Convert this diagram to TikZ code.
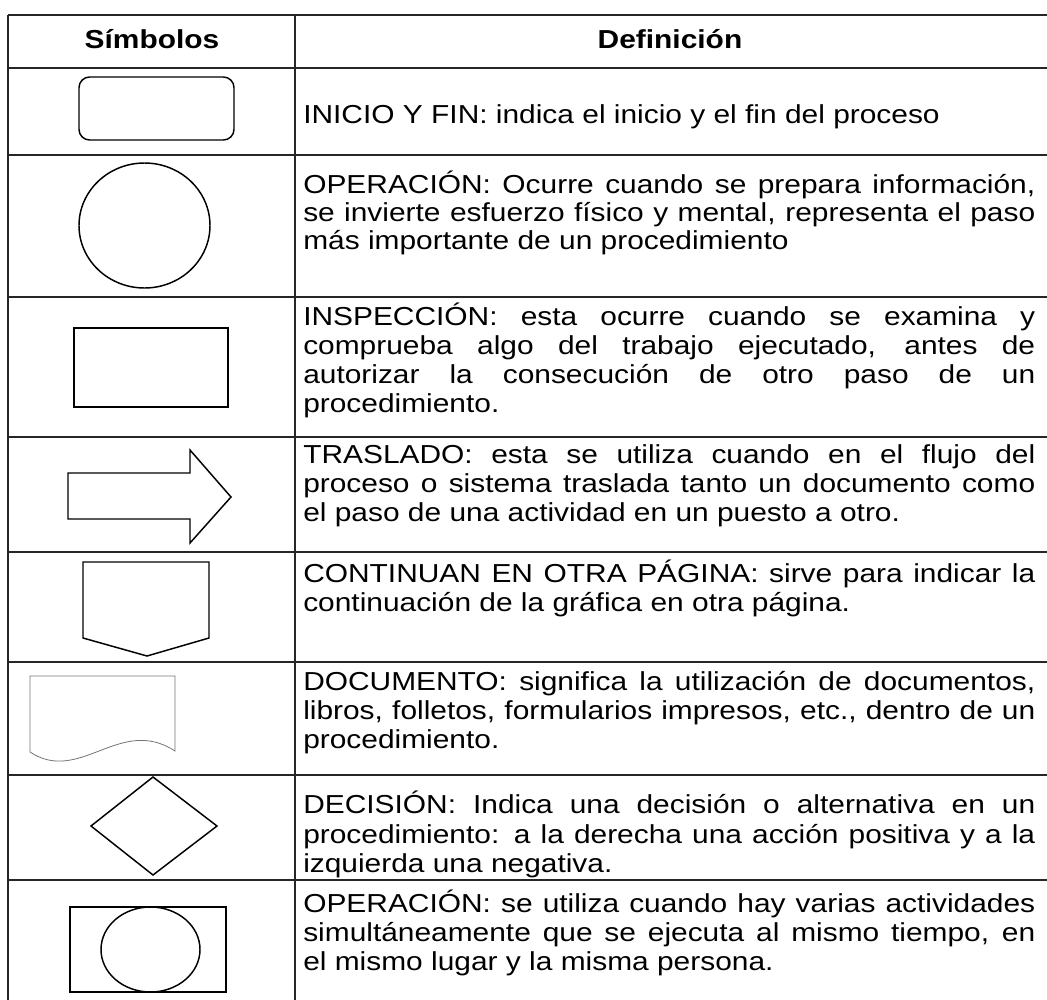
\documentclass[tikz,border=0pt]{standalone}
\usepackage{fontspec}
\setmainfont{Liberation Sans}[FakeStretch=1.15]
\newlength{\defw}
\setlength{\defw}{549pt}
\newcommand{\jl}[1]{\makebox[\defw][s]{#1}}
\begin{document}
\begin{tikzpicture}[x=0.75pt,y=-0.75pt,
  tabline/.style={line width=1.2pt,black!85},
  symb/.style={line width=1.1pt},
  docsymb/.style={line width=0.6pt,black!55},
  deftext/.style={anchor=base west,inner sep=0pt,font=\fontsize{19.5}{22}\selectfont},
  headtext/.style={anchor=base,inner sep=0pt,font=\fontsize{19.5}{22}\selectfont\bfseries}]
\useasboundingbox (0,0) rectangle (1047,1000);
% table
\foreach \y in {15,68,155,297,437,552,662,775,880}
  \draw[tabline] (8,\y) -- (1047,\y);
\draw[tabline] (8,15) -- (8,1000);
\draw[tabline] (295,15) -- (295,1000);
% header
\node[headtext] (hsim) at (152,48) {Símbolos};
\node[headtext] (hdef) at (670,48) {Definición};
% symbols
\draw[symb,rounded corners=8] (79,77) rectangle (234,140);
\draw[symb] (144.5,225.5) ellipse [x radius=65.5,y radius=62.5];
\draw[symb] (74,328) rectangle (228,407);
\draw[symb] (68,473) -- (190,473) -- (190,450) -- (231,497) -- (190,543) -- (190,519) -- (68,519) -- cycle;
\draw[symb] (83,562) -- (209,562) -- (209,638) -- (147,656) -- (83,638) -- cycle;
\draw[docsymb] (30,752) -- (30,676) -- (175,676) -- (175,751) .. controls (120,715) and (80,785) .. (30,752);
\draw[symb] (153,777) -- (217,826) -- (153,875) -- (91,826) -- cycle;
\draw[symb] (70,907) rectangle (226,992);
\draw[symb] (150.5,949.5) ellipse [x radius=49.5,y radius=42.5];
% definitions
\node[deftext] (r1a) at (303,123) {INICIO Y FIN: indica el inicio y el fin del proceso};
\node[deftext] (r2a) at (303,193) {\jl{OPERACIÓN: Ocurre cuando se prepara información,}};
\node[deftext] (r2b) at (303,221) {\jl{se invierte esfuerzo físico y mental, representa el paso}};
\node[deftext] (r2c) at (303,249) {más importante de un procedimiento};
\node[deftext] (r3a) at (303,325) {\jl{INSPECCIÓN: esta ocurre cuando se examina y}};
\node[deftext] (r3b) at (303,354) {\jl{comprueba algo del trabajo ejecutado, antes de}};
\node[deftext] (r3c) at (303,383) {\jl{autorizar la consecución de otro paso de un}};
\node[deftext] (r3d) at (303,412) {procedimiento.};
\node[deftext] (r4a) at (303,463) {\jl{TRASLADO: esta se utiliza cuando en el flujo del}};
\node[deftext] (r4b) at (303,492) {\jl{proceso o sistema traslada tanto un documento como}};
\node[deftext] (r4c) at (303,521) {el paso de una actividad en un puesto a otro.};
\node[deftext] (r5a) at (303,582) {\jl{CONTINUAN EN OTRA PÁGINA: sirve para indicar la}};
\node[deftext] (r5b) at (303,611) {continuación de la gráfica en otra página.};
\node[deftext] (r6a) at (303,690) {\jl{DOCUMENTO: significa la utilización de documentos,}};
\node[deftext] (r6b) at (303,719) {\jl{libros, folletos, formularios impresos, etc., dentro de un}};
\node[deftext] (r6c) at (303,748) {procedimiento.};
\node[deftext] (r7a) at (303,813) {\jl{DECISIÓN: Indica una decisión o alternativa en un}};
\node[deftext] (r7b) at (303,843) {\jl{procedimiento: a la derecha una acción positiva y a la}};
\node[deftext] (r7c) at (303,872) {izquierda una negativa.};
\node[deftext] (r8a) at (303,912) {\jl{OPERACIÓN: se utiliza cuando hay varias actividades}};
\node[deftext] (r8b) at (303,941) {\jl{simultáneamente que se ejecuta al mismo tiempo, en}};
\node[deftext] (r8c) at (303,970) {el mismo lugar y la misma persona.};
\end{tikzpicture}
\end{document}
